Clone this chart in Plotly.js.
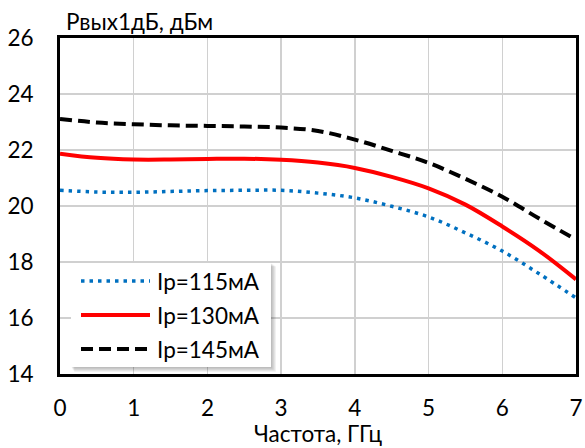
<!DOCTYPE html>
<html>
<head>
<meta charset="utf-8">
<script src="https://cdn.plot.ly/plotly-3.0.1.min.js"></script>
<style>html,body{margin:0;padding:0;background:#fff;}#chart{width:585px;height:448px;}</style>
</head>
<body>
<div id="chart"></div>
<script>
const freq = [0, 0.5, 1, 1.5, 2, 2.5, 3, 3.5, 4, 4.5, 5, 5.5, 6, 6.5, 7];
const p115 = [20.56, 20.50, 20.49, 20.52, 20.55, 20.56, 20.56, 20.46, 20.29, 19.99, 19.61, 19.04, 18.39, 17.58, 16.72];
const p130 = [21.87, 21.72, 21.66, 21.66, 21.68, 21.69, 21.65, 21.55, 21.36, 21.04, 20.63, 20.05, 19.27, 18.40, 17.38];
const p145 = [23.11, 22.98, 22.92, 22.88, 22.86, 22.84, 22.80, 22.68, 22.37, 21.97, 21.54, 20.97, 20.33, 19.55, 18.80];
const seriesNames = ["Ip=115мА", "Ip=130мА", "Ip=145мА"];
const yTicks = [14, 16, 18, 20, 22, 24, 26];
const xTicks = [0, 1, 2, 3, 4, 5, 6, 7];
const yTitle = "Рвых1дБ, дБм";
const xTitle = "Частота, ГГц";

const FONT = "Lato, 'Open Sans', sans-serif";
const FS = 22.5;
const styles = [
  {color: "#0070C0", width: 3.5, dash: "3.5px,5px"},
  {color: "#FF0000", width: 4, dash: "solid"},
  {color: "#000000", width: 4, dash: "12px,6px"}
];

const M = {l: 60, r: 9, t: 38, b: 74};
const W = 585, H = 448;
const PW = W - M.l - M.r, PH = H - M.t - M.b;
const px = v => (v - M.l) / PW;
const py = v => (H - M.b - v) / PH;

const series = [p115, p130, p145];
const traces = series.map((s, i) => ({
  x: freq, y: s, name: seriesNames[i], mode: "lines", showlegend: false,
  line: {color: styles[i].color, width: styles[i].width, dash: styles[i].dash, shape: "spline"}
}));

// custom legend (box with soft shadow, longer line samples)
const shapes = [];
const annotations = [];
for (let k = 4; k >= 1; k--) {
  shapes.push({type: "rect", xref: "paper", yref: "paper", layer: "above",
    x0: px(71 + k * 0.8), x1: px(271 + k * 1.2), y0: py(263 + k * 0.8), y1: py(367 + k * 1.2),
    fillcolor: "rgba(0,0,0,0.07)", line: {width: 0}});
}
shapes.push({type: "rect", xref: "paper", yref: "paper", layer: "above",
  x0: px(71), x1: px(271), y0: py(263), y1: py(367), fillcolor: "#fff", line: {width: 0}});
const rowY = [281, 315, 349];
seriesNames.forEach((n, i) => {
  shapes.push({type: "line", xref: "paper", yref: "paper", layer: "above",
    x0: px(81), x1: px(150), y0: py(rowY[i]), y1: py(rowY[i]),
    line: {color: styles[i].color, width: styles[i].width, dash: styles[i].dash}});
  annotations.push({text: n, xref: "paper", yref: "paper", x: px(155), y: py(rowY[i]),
    xanchor: "left", yanchor: "middle", showarrow: false,
    font: {family: FONT, size: FS, color: "#000"}});
});
annotations.push({text: yTitle, xref: "paper", yref: "paper", x: px(64), y: py(22),
  xanchor: "left", yanchor: "middle", showarrow: false, font: {family: FONT, size: FS, color: "#000"}});
annotations.push({text: xTitle, xref: "paper", yref: "paper", x: 0.5, y: py(448),
  xanchor: "center", yanchor: "bottom", borderpad: 0, showarrow: false,
  font: {family: FONT, size: FS, color: "#000"}});

const layout = {
  width: W, height: H, margin: M,
  paper_bgcolor: "#fff", plot_bgcolor: "#fff",
  font: {family: FONT, size: FS, color: "#000"},
  showlegend: false,
  xaxis: {range: [0, 7], tickvals: xTicks, ticktext: xTicks.map(String), showgrid: true,
          gridcolor: "#d0d0d0", gridwidth: 1.5, zeroline: false, showline: true, linecolor: "#000",
          linewidth: 3, mirror: true, ticks: "", ticklabelstandoff: 12},
  yaxis: {range: [14, 26], tickvals: yTicks, ticktext: yTicks.map(String), showgrid: true,
          gridcolor: "#d0d0d0", gridwidth: 1.5, zeroline: false, showline: true, linecolor: "#000",
          linewidth: 3, mirror: true, ticks: "", ticklabelstandoff: 19},
  shapes: shapes,
  annotations: annotations
};

Plotly.newPlot("chart", traces, layout, {displayModeBar: false, staticPlot: true});
</script>
</body>
</html>
